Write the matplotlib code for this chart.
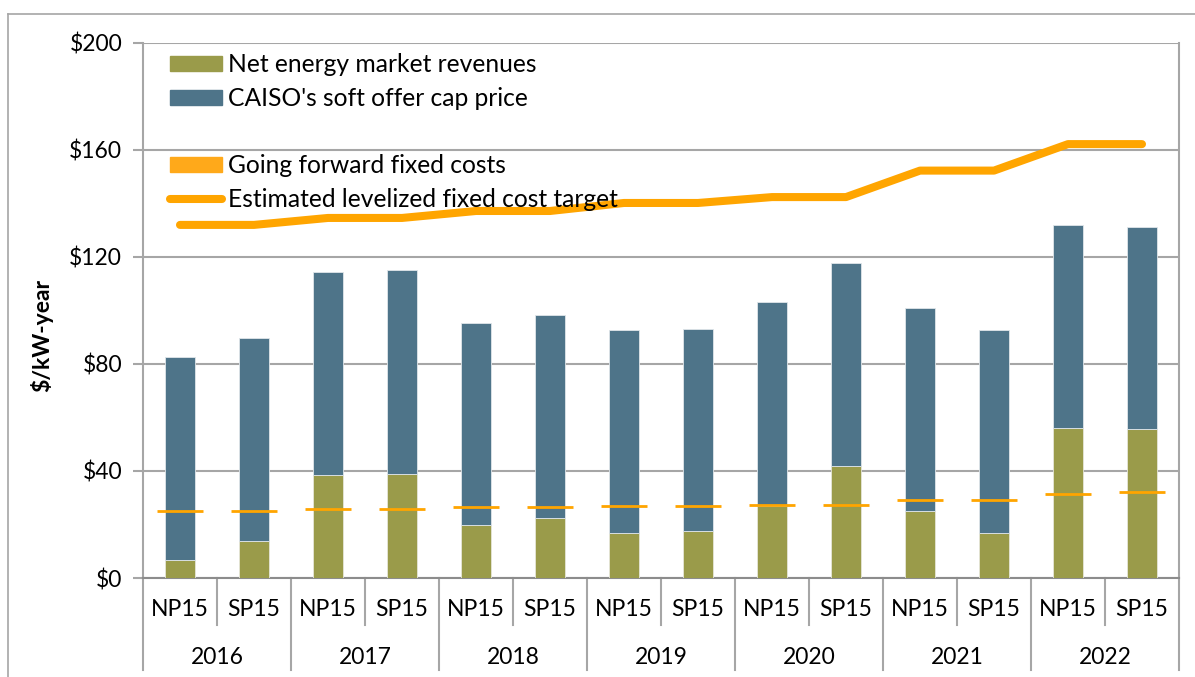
import matplotlib
matplotlib.use("Agg")
import matplotlib.pyplot as plt
from matplotlib.patches import Patch
from matplotlib.lines import Line2D
import numpy as np

# ---------------- data ----------------
years = ["2016", "2017", "2018", "2019", "2020", "2021", "2022"]
zones = ["NP15", "SP15"]
net_energy = [6.7, 13.8, 38.5, 38.9, 19.8, 22.4, 16.8, 17.6, 27.1, 41.9, 25.0, 16.7, 56.2, 55.6]
total_cap = [82.6, 89.7, 114.4, 115.1, 95.3, 98.3, 92.7, 93.1, 103.2, 117.8, 100.9, 92.6, 131.8, 131.2]
soft_cap = [t - n for t, n in zip(total_cap, net_energy)]
going_forward = [25.0, 25.0, 25.8, 25.8, 26.5, 26.5, 26.9, 26.9, 27.3, 27.3, 29.3, 29.3, 31.3, 32.1]
levelized = [132.0, 132.0, 134.6, 134.6, 137.2, 137.2, 140.2, 140.2, 142.4, 142.4, 152.3, 152.3, 162.2, 162.2]
yticks = [0, 40, 80, 120, 160, 200]
ytick_labels = ["$0", "$40", "$80", "$120", "$160", "$200"]

# ---------------- style ----------------
OLIVE = "#9A9B4A"
BLUE = "#4E7489"
ORANGE = "#FFA500"
GRID = "#A6A6A6"
FONT = "Lato"
FS = 16.5
LFS = 17.7

W, H = 1195, 677
fig = plt.figure(figsize=(W / 100, H / 100), dpi=100)
ax = fig.add_axes([143 / W, 1 - 578 / H, (1179 - 143) / W, (578 - 43) / H])

x = np.arange(len(net_energy))
bw = 0.4
ax.bar(x, net_energy, width=bw, color=OLIVE, edgecolor="#E6E6D8", linewidth=0.6, zorder=3)
ax.bar(x, soft_cap, width=bw, bottom=net_energy, color=BLUE, edgecolor="#E0E6EA", linewidth=0.6, zorder=3)
ax.hlines(going_forward, x - 0.305, x + 0.305, colors=ORANGE, linewidth=2.0, zorder=4)
ax.plot(x, levelized, color=ORANGE, linewidth=5.8, solid_capstyle="round", solid_joinstyle="round", zorder=5)

ax.set_xlim(-0.5, len(x) - 0.5)
ax.set_ylim(0, 200)
ax.set_yticks(yticks)
ax.set_yticklabels(ytick_labels, fontfamily=FONT, fontsize=FS)
ax.yaxis.grid(True, color=GRID, linewidth=1.5, zorder=0)
ax.set_axisbelow(True)
ax.tick_params(axis="y", length=7, width=1.5, color=GRID, pad=8)
ax.set_xticks([])
ax.spines["top"].set_visible(False)
for s in ["left", "right", "bottom"]:
    ax.spines[s].set_color(GRID)
    ax.spines[s].set_linewidth(1.5)
ax.spines["bottom"].set_color("#8C8C8C")

# multi-level category axis
trans = ax.get_xaxis_transform()
for i in range(len(x)):
    ax.text(x[i], -0.0598, zones[i % 2], transform=trans, ha="center", va="center",
            fontfamily=FONT, fontsize=FS)
for j, yr in enumerate(years):
    ax.text(2 * j + 0.5, -0.1477, yr, transform=trans, ha="center", va="center",
            fontfamily=FONT, fontsize=FS)
for k in range(len(x) + 1):
    b = k - 0.5
    y_end = -0.172 if k % 2 == 0 else -0.088
    ax.add_line(Line2D([b, b], [0, y_end], transform=trans, color=GRID, linewidth=1.5, clip_on=False))

# y label
fig.text(42 / W, 1 - 335 / H, "$/kW-year", rotation=90, ha="center", va="center",
         fontfamily=FONT, fontsize=FS, fontweight="bold")

# legend
handles = [Patch(color=OLIVE), Patch(color=BLUE), Patch(color="none"), Patch(color="#FFA91A"),
           Line2D([], [], color=ORANGE, linewidth=5.8, solid_capstyle="round")]
labels = ["Net energy market revenues", "CAISO's soft offer cap price", " ",
          "Going forward fixed costs", "Estimated levelized fixed cost target"]
leg = ax.legend(handles, labels, loc="upper left",
                bbox_to_anchor=((170 - 143) / (1179 - 143), 1 - 10.5 / 535),
                frameon=False, prop={"family": FONT, "size": LFS}, borderpad=0, borderaxespad=0,
                handlelength=2.12, handleheight=0.57, handletextpad=0.25, labelspacing=0.43)

# outer frame
fig.add_artist(Line2D([7.5 / W, 7.5 / W], [0, 1 - 14 / H], transform=fig.transFigure, color="#A6A6A6", linewidth=1.2))
fig.add_artist(Line2D([7.5 / W, 1], [1 - 14 / H, 1 - 14 / H], transform=fig.transFigure, color="#A6A6A6", linewidth=1.2))

fig.savefig("out.png", dpi=100)
